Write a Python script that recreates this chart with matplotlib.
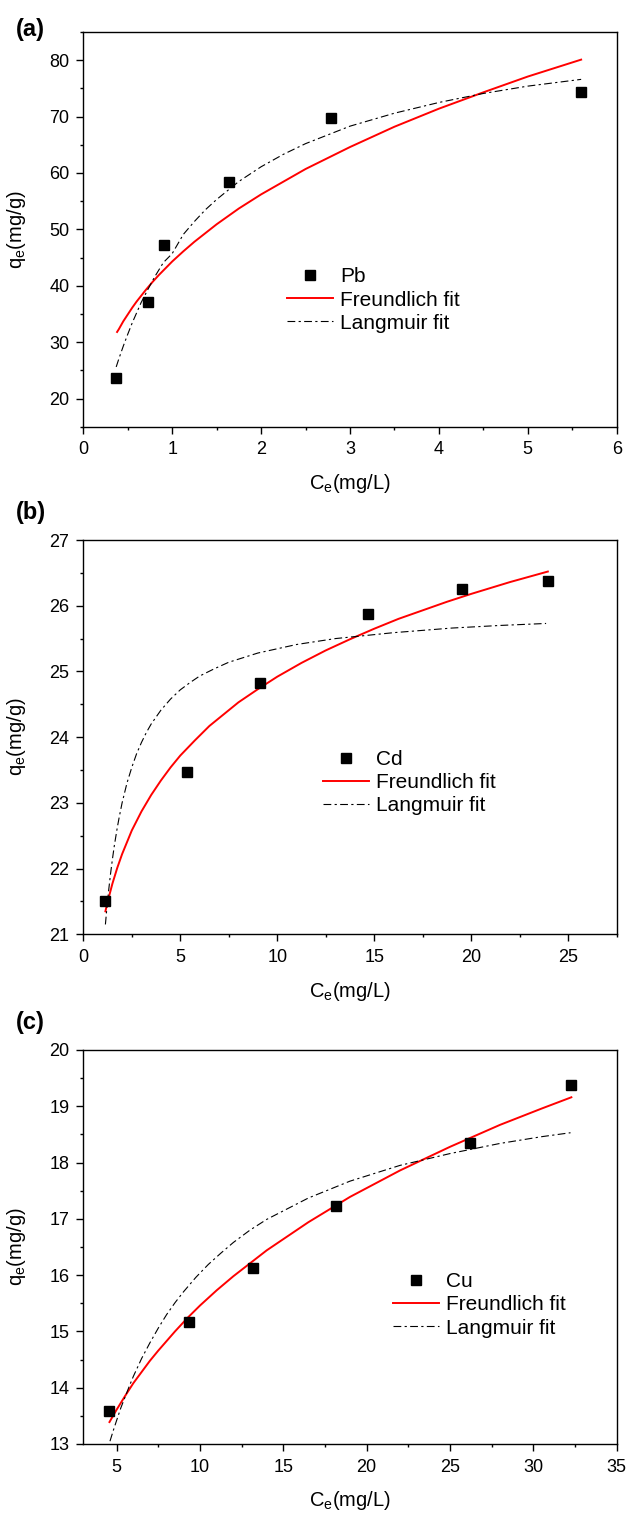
import matplotlib
matplotlib.use("Agg")
import matplotlib.pyplot as plt
from matplotlib.ticker import MultipleLocator, AutoMinorLocator

plt.rcParams['font.family'] = ['Liberation Sans', 'DejaVu Sans']
plt.rcParams['mathtext.fontset'] = 'custom'
plt.rcParams['mathtext.rm'] = 'Liberation Sans'
plt.rcParams['mathtext.it'] = 'Liberation Sans:italic'

# ---------------- data ----------------
# (a) Pb
pb_ce = [0.365, 0.726, 0.907, 1.637, 2.79, 5.60]
pb_qe = [23.6, 37.1, 47.3, 58.4, 69.8, 74.3]
pb_fr_x = [0.38, 0.4, 0.45, 0.5, 0.55, 0.6, 0.7, 0.775, 0.85, 0.925, 1.0, 1.125, 1.25, 1.5, 1.75,
           2.0, 2.5, 3.0, 3.5, 4.0, 4.5, 5.0, 5.6]
pb_fr_y = [31.8, 32.3, 33.7, 34.9, 36.1, 37.2, 39.2, 40.6, 41.9, 43.1, 44.3, 46.1, 47.8, 50.9, 53.7,
           56.2, 60.7, 64.6, 68.2, 71.4, 74.3, 77.1, 80.1]
pb_la_x = [0.37, 0.4, 0.45, 0.5, 0.55, 0.6, 0.65, 0.725, 0.8, 0.9, 1.0, 1.125, 1.25, 1.375, 1.5, 1.75,
           2.0, 2.25, 2.5, 3.0, 3.5, 4.0, 4.5, 5.0, 5.6]
pb_la_y = [25.6, 27.05, 29.3, 31.4, 33.4, 35.2, 37.0, 39.3, 41.5, 44.1, 45.7, 49.1, 51.4, 53.5, 55.3, 58.5,
           61.1, 63.3, 65.2, 68.3, 70.6, 72.5, 74.1, 75.4, 76.6]

# (b) Cd
cd_ce = [1.14, 5.37, 9.10, 14.66, 19.51, 23.95]
cd_qe = [21.51, 23.47, 24.82, 25.87, 26.25, 26.37]
cd_fr_x = [1.14, 1.25, 1.5, 1.75, 2, 2.5, 3, 3.5, 4, 4.5, 5, 5.75, 6.5, 7.25, 8, 9, 10, 11.25, 12.5,
           13.75, 15, 16.25, 17.5, 18.75, 20, 22, 23.95]
cd_fr_y = [21.35, 21.49, 21.77, 22.01, 22.22, 22.58, 22.87, 23.12, 23.34, 23.54, 23.72, 23.95, 24.17,
           24.35, 24.53, 24.73, 24.92, 25.13, 25.32, 25.49, 25.65, 25.80, 25.93, 26.06, 26.18, 26.36, 26.52]
cd_la_x = [1.14, 1.2, 1.3, 1.4, 1.5, 1.6, 1.75, 1.85, 2.0, 2.25, 2.5, 2.75, 3.0, 3.25, 3.5, 4.0, 4.5,
           5.0, 5.5, 6.0, 6.75, 7.5, 8.25, 9, 11, 13, 16, 19, 21.5, 23.86]
cd_la_y = [21.15, 21.35, 21.65, 21.91, 22.14, 22.35, 22.62, 22.78, 23.00, 23.30, 23.54, 23.75, 23.92,
           24.07, 24.20, 24.41, 24.58, 24.72, 24.83, 24.93, 25.04, 25.14, 25.21, 25.28,
           25.41, 25.50, 25.59, 25.66, 25.70, 25.73]

# (c) Cu
cu_ce = [4.52, 9.33, 13.18, 18.16, 26.22, 32.28]
cu_qe = [13.58, 15.16, 16.12, 17.22, 18.34, 19.37]
cu_fr_x = [4.57, 5, 5.5, 6, 6.5, 7, 7.5, 8.5, 9.25, 10, 11, 12, 14, 16.5, 19, 22, 25, 28, 30.5, 32.28]
cu_fr_y = [13.39, 13.61, 13.85, 14.08, 14.28, 14.48, 14.66, 15.00, 15.24, 15.46, 15.73, 15.98, 16.44,
           16.94, 17.39, 17.86, 18.28, 18.67, 18.96, 19.16]
cu_la_x = [4.6, 4.8, 5, 5.25, 5.5, 5.75, 6, 6.5, 7, 7.5, 8, 8.5, 9, 9.75, 10.5, 11.25, 12, 13, 14, 16.5,
           19, 22, 25, 28, 30.5, 32.23]
cu_la_y = [13.05, 13.24, 13.42, 13.64, 13.83, 14.02, 14.20, 14.52, 14.80, 15.06, 15.30, 15.51, 15.70,
           15.96, 16.19, 16.39, 16.58, 16.80, 16.99, 17.37, 17.67, 17.95, 18.16, 18.34, 18.46, 18.53]

panels = [
    dict(tag='(a)', metal='Pb', ce=pb_ce, qe=pb_qe, frx=pb_fr_x, fry=pb_fr_y, lax=pb_la_x, lay=pb_la_y,
         xlim=(0, 6), ylim=(15, 85), xmaj=1, yticks=[20, 30, 40, 50, 60, 70, 80],
         top=32, bottom=426.7, tagtop=18, leg=(0.3825, 0.321)),
    dict(tag='(b)', metal='Cd', ce=cd_ce, qe=cd_qe, frx=cd_fr_x, fry=cd_fr_y, lax=cd_la_x, lay=cd_la_y,
         xlim=(0, 27.5), ylim=(21, 27), xmaj=5, yticks=[21, 22, 23, 24, 25, 26, 27],
         top=540, bottom=934.3, tagtop=501, leg=(0.449, 0.3845)),
    dict(tag='(c)', metal='Cu', ce=cu_ce, qe=cu_qe, frx=cu_fr_x, fry=cu_fr_y, lax=cu_la_x, lay=cu_la_y,
         xlim=(3, 35), ylim=(13, 20), xmaj=5, yticks=[13, 14, 15, 16, 17, 18, 19, 20],
         top=1050, bottom=1444, tagtop=1011, leg=(0.581, 0.3528)),
]

W, H = 628, 1516
fig = plt.figure(figsize=(W / 100, H / 100), dpi=100)

left_px, right_px = 83.3, 616.7
for p in panels:
    rect = [left_px / W, 1 - p['bottom'] / H, (right_px - left_px) / W, (p['bottom'] - p['top']) / H]
    ax = fig.add_axes(rect)
    ax.plot(p['ce'], p['qe'], 's', color='black', markersize=6.5, label=p['metal'], zorder=3)
    ax.plot(p['frx'], p['fry'], '-', color='#ff0000', lw=1.4, label='Freundlich fit', zorder=2)
    ax.plot(p['lax'], p['lay'], color='black', lw=0.8, dashes=[7, 3, 2, 3], label='Langmuir fit', zorder=2)
    ax.set_xlim(*p['xlim'])
    ax.set_ylim(*p['ylim'])
    ax.xaxis.set_major_locator(MultipleLocator(p['xmaj']))
    ax.xaxis.set_minor_locator(AutoMinorLocator(2))
    ax.set_yticks(p['yticks'])
    ax.yaxis.set_minor_locator(AutoMinorLocator(2))
    ax.tick_params(which='both', direction='out', top=False, right=False, width=1.0, labelsize=13)
    ax.tick_params(which='major', length=5)
    ax.tick_params(which='minor', length=2.5)
    ax.tick_params(axis='x', which='major', pad=5.5)
    ax.tick_params(axis='y', which='major', pad=5)
    for s in ax.spines.values():
        s.set_linewidth(1.0)
    ax.set_xlabel(r'C$_{\mathregular{e}}$(mg/L)', fontsize=14.5)
    ax.set_ylabel(r'q$_{\mathregular{e}}$(mg/g)', fontsize=14.5)
    ax.xaxis.set_label_coords(0.5, -0.115)
    ax.yaxis.set_label_coords(-0.103, 0.5)
    ax.legend(loc='center left', bbox_to_anchor=p['leg'], frameon=False, fontsize=15,
              handlelength=2.2, handletextpad=0.35, labelspacing=0.2, borderpad=0, borderaxespad=0)
    fig.text(16 / W, 1 - p['tagtop'] / H, p['tag'], fontsize=17, fontweight='bold', ha='left', va='top')

fig.savefig('out.png', dpi=100)
